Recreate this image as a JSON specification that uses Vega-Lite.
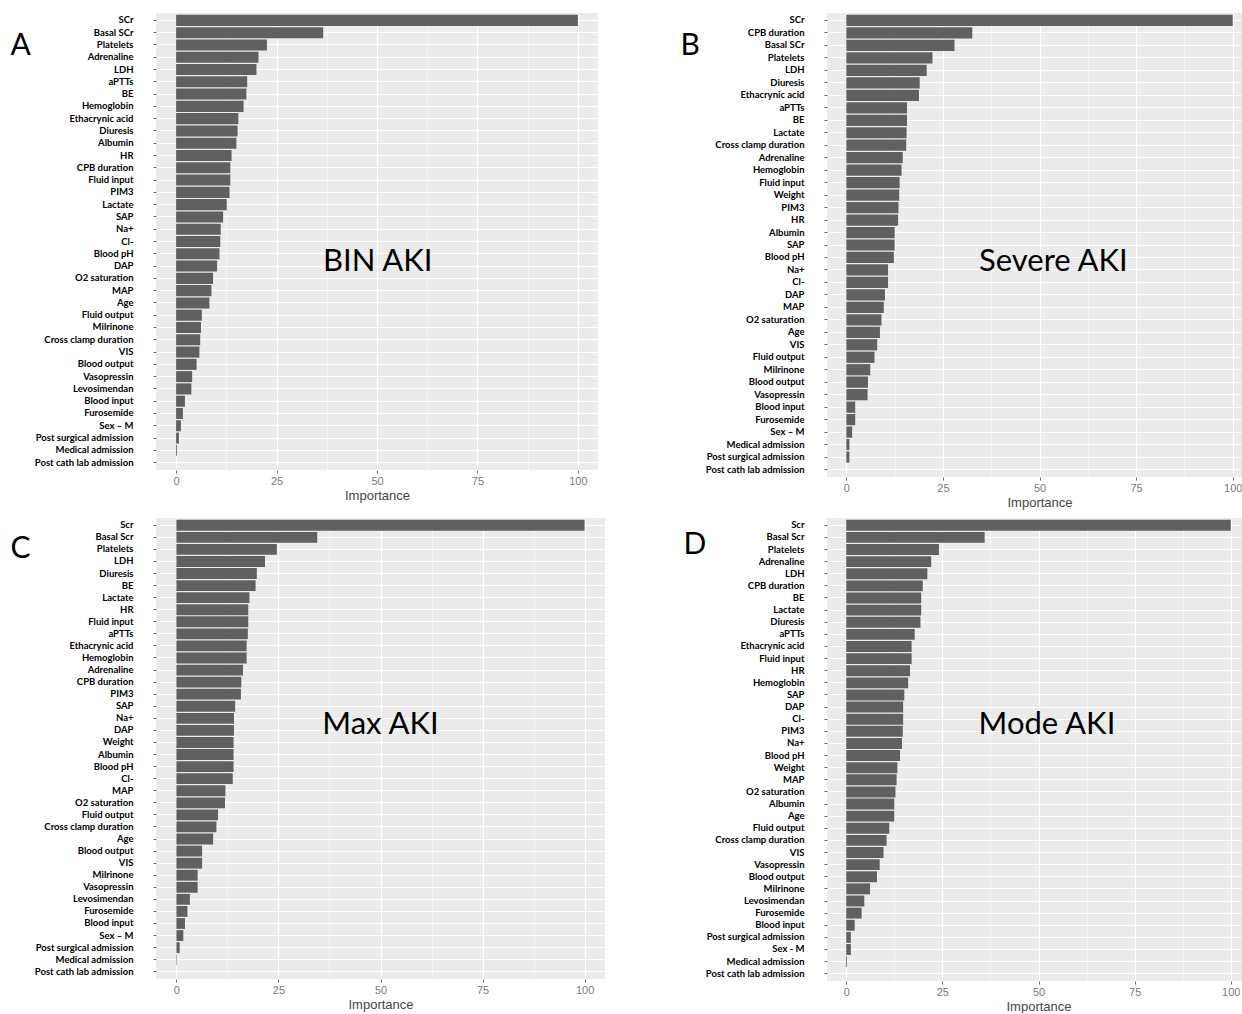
{
  "$schema": "https://vega.github.io/schema/vega-lite/v6.json",
  "padding": {"left": 10, "top": 13, "right": 0, "bottom": 0},
  "datasets": {
    "A": [
      {"variable": "SCr", "importance": 100},
      {"variable": "Basal SCr", "importance": 36.6},
      {"variable": "Platelets", "importance": 22.6},
      {"variable": "Adrenaline", "importance": 20.5},
      {"variable": "LDH", "importance": 20.0},
      {"variable": "aPTTs", "importance": 17.7},
      {"variable": "BE", "importance": 17.5},
      {"variable": "Hemoglobin", "importance": 16.8},
      {"variable": "Ethacrynic acid", "importance": 15.5},
      {"variable": "Diuresis", "importance": 15.3},
      {"variable": "Albumin", "importance": 15.0},
      {"variable": "HR", "importance": 13.8},
      {"variable": "CPB duration", "importance": 13.5},
      {"variable": "Fluid input", "importance": 13.5},
      {"variable": "PIM3", "importance": 13.3},
      {"variable": "Lactate", "importance": 12.6},
      {"variable": "SAP", "importance": 11.7},
      {"variable": "Na+", "importance": 11.1},
      {"variable": "Cl-", "importance": 11.0},
      {"variable": "Blood pH", "importance": 10.8},
      {"variable": "DAP", "importance": 10.2},
      {"variable": "O2 saturation", "importance": 9.2},
      {"variable": "MAP", "importance": 8.8},
      {"variable": "Age", "importance": 8.3},
      {"variable": "Fluid output", "importance": 6.4},
      {"variable": "Milrinone", "importance": 6.2},
      {"variable": "Cross clamp duration", "importance": 6.0},
      {"variable": "VIS", "importance": 5.8},
      {"variable": "Blood output", "importance": 5.1},
      {"variable": "Vasopressin", "importance": 4.0},
      {"variable": "Levosimendan", "importance": 3.8},
      {"variable": "Blood input", "importance": 2.2},
      {"variable": "Furosemide", "importance": 1.7},
      {"variable": "Sex – M", "importance": 1.2},
      {"variable": "Post surgical admission", "importance": 0.7},
      {"variable": "Medical admission", "importance": 0.2},
      {"variable": "Post cath lab admission", "importance": 0}
    ],
    "B": [
      {"variable": "SCr", "importance": 100},
      {"variable": "CPB duration", "importance": 32.6},
      {"variable": "Basal SCr", "importance": 28.0},
      {"variable": "Platelets", "importance": 22.3},
      {"variable": "LDH", "importance": 20.8},
      {"variable": "Diuresis", "importance": 19.0},
      {"variable": "Ethacrynic acid", "importance": 18.8},
      {"variable": "aPTTs", "importance": 15.7},
      {"variable": "BE", "importance": 15.7},
      {"variable": "Lactate", "importance": 15.6},
      {"variable": "Cross clamp duration", "importance": 15.5},
      {"variable": "Adrenaline", "importance": 14.6},
      {"variable": "Hemoglobin", "importance": 14.3},
      {"variable": "Fluid input", "importance": 13.8},
      {"variable": "Weight", "importance": 13.7},
      {"variable": "PIM3", "importance": 13.5},
      {"variable": "HR", "importance": 13.4},
      {"variable": "Albumin", "importance": 12.5},
      {"variable": "SAP", "importance": 12.5},
      {"variable": "Blood pH", "importance": 12.3},
      {"variable": "Na+", "importance": 10.8},
      {"variable": "Cl-", "importance": 10.8},
      {"variable": "DAP", "importance": 10.0},
      {"variable": "MAP", "importance": 9.7},
      {"variable": "O2 saturation", "importance": 9.1},
      {"variable": "Age", "importance": 8.7},
      {"variable": "VIS", "importance": 8.0},
      {"variable": "Fluid output", "importance": 7.3},
      {"variable": "Milrinone", "importance": 6.2},
      {"variable": "Blood output", "importance": 5.6},
      {"variable": "Vasopressin", "importance": 5.5},
      {"variable": "Blood input", "importance": 2.3},
      {"variable": "Furosemide", "importance": 2.3},
      {"variable": "Sex – M", "importance": 1.5},
      {"variable": "Medical admission", "importance": 0.8},
      {"variable": "Post surgical admission", "importance": 0.8},
      {"variable": "Post cath lab admission", "importance": 0}
    ],
    "C": [
      {"variable": "Scr", "importance": 100},
      {"variable": "Basal Scr", "importance": 34.5},
      {"variable": "Platelets", "importance": 24.6},
      {"variable": "LDH", "importance": 21.7},
      {"variable": "Diuresis", "importance": 19.7},
      {"variable": "BE", "importance": 19.4},
      {"variable": "Lactate", "importance": 17.9},
      {"variable": "HR", "importance": 17.6},
      {"variable": "Fluid input", "importance": 17.6},
      {"variable": "aPTTs", "importance": 17.5},
      {"variable": "Ethacrynic acid", "importance": 17.2},
      {"variable": "Hemoglobin", "importance": 17.2},
      {"variable": "Adrenaline", "importance": 16.3},
      {"variable": "CPB duration", "importance": 15.9},
      {"variable": "PIM3", "importance": 15.8},
      {"variable": "SAP", "importance": 14.4},
      {"variable": "Na+", "importance": 14.1},
      {"variable": "DAP", "importance": 14.1},
      {"variable": "Weight", "importance": 14.0},
      {"variable": "Albumin", "importance": 14.0},
      {"variable": "Blood pH", "importance": 14.0},
      {"variable": "Cl-", "importance": 13.8},
      {"variable": "MAP", "importance": 12.0},
      {"variable": "O2 saturation", "importance": 11.9},
      {"variable": "Fluid output", "importance": 10.2},
      {"variable": "Cross clamp duration", "importance": 9.8},
      {"variable": "Age", "importance": 9.0},
      {"variable": "Blood output", "importance": 6.3},
      {"variable": "VIS", "importance": 6.3},
      {"variable": "Milrinone", "importance": 5.2},
      {"variable": "Vasopressin", "importance": 5.2},
      {"variable": "Levosimendan", "importance": 3.3},
      {"variable": "Furosemide", "importance": 2.7},
      {"variable": "Blood input", "importance": 2.1},
      {"variable": "Sex – M", "importance": 1.7},
      {"variable": "Post surgical admission", "importance": 0.8},
      {"variable": "Medical admission", "importance": 0.1},
      {"variable": "Post cath lab admission", "importance": 0}
    ],
    "D": [
      {"variable": "Scr", "importance": 100},
      {"variable": "Basal Scr", "importance": 36.0},
      {"variable": "Platelets", "importance": 24.1},
      {"variable": "Adrenaline", "importance": 22.1},
      {"variable": "LDH", "importance": 21.1},
      {"variable": "CPB duration", "importance": 19.9},
      {"variable": "BE", "importance": 19.5},
      {"variable": "Lactate", "importance": 19.5},
      {"variable": "Diuresis", "importance": 19.3},
      {"variable": "aPTTs", "importance": 17.8},
      {"variable": "Ethacrynic acid", "importance": 17.0},
      {"variable": "Fluid input", "importance": 17.0},
      {"variable": "HR", "importance": 16.6},
      {"variable": "Hemoglobin", "importance": 16.1},
      {"variable": "SAP", "importance": 15.1},
      {"variable": "DAP", "importance": 14.8},
      {"variable": "Cl-", "importance": 14.8},
      {"variable": "PIM3", "importance": 14.7},
      {"variable": "Na+", "importance": 14.5},
      {"variable": "Blood pH", "importance": 14.0},
      {"variable": "Weight", "importance": 13.3},
      {"variable": "MAP", "importance": 13.1},
      {"variable": "O2 saturation", "importance": 12.8},
      {"variable": "Albumin", "importance": 12.5},
      {"variable": "Age", "importance": 12.5},
      {"variable": "Fluid output", "importance": 11.2},
      {"variable": "Cross clamp duration", "importance": 10.5},
      {"variable": "VIS", "importance": 9.7},
      {"variable": "Vasopressin", "importance": 8.7},
      {"variable": "Blood output", "importance": 8.0},
      {"variable": "Milrinone", "importance": 6.2},
      {"variable": "Levosimendan", "importance": 4.7},
      {"variable": "Furosemide", "importance": 4.0},
      {"variable": "Blood input", "importance": 2.2},
      {"variable": "Post surgical admission", "importance": 1.2},
      {"variable": "Sex - M", "importance": 1.2},
      {"variable": "Medical admission", "importance": 0.2},
      {"variable": "Post cath lab admission", "importance": 0}
    ]
  },
  "vconcat": [
    {
      "hconcat": [
        {
          "width": 442, "height": 457,
          "data": {"name": "A"},
          "resolve": {"axis": {"x": "independent"}},
          "layer": [
            {
              "mark": {"type": "bar", "color": "#606060"},
              "encoding": {
                "x": {"field": "importance", "type": "quantitative", "scale": {"domain": [-5, 105], "nice": false},
                      "axis": {"values": [0, 25, 50, 75, 100], "title": "Importance"}},
                "y": {"field": "variable", "type": "nominal", "sort": null, "scale": {"paddingInner": 0.1, "paddingOuter": 0.15},
                      "axis": {"title": "A", "titleX": -146, "titleY": 32}}
              }
            },
            {
              "data": {"values": [{}]},
              "mark": {"type": "text", "font": "Lato", "fontSize": 31, "color": "black", "dy": 8},
              "encoding": {
                "x": {"datum": 50.2, "type": "quantitative",
                      "axis": {"orient": "top", "values": [12.5, 37.5, 62.5, 87.5], "grid": true, "gridWidth": 0.5, "labels": false, "ticks": false, "domain": false, "title": null}},
                "y": {"datum": "Blood pH", "type": "nominal", "title": "A"},
                "text": {"value": "BIN AKI"}
              }
            }
          ]
        },
        {
          "width": 425, "height": 464,
          "data": {"name": "B"},
          "resolve": {"axis": {"x": "independent"}},
          "layer": [
            {
              "mark": {"type": "bar", "color": "#606060"},
              "encoding": {
                "x": {"field": "importance", "type": "quantitative", "scale": {"domain": [-5, 105], "nice": false},
                      "axis": {"values": [0, 25, 50, 75, 100], "title": "Importance"}},
                "y": {"field": "variable", "type": "nominal", "sort": null, "scale": {"paddingInner": 0.1, "paddingOuter": 0.15},
                      "axis": {"title": "B", "titleX": -147, "titleY": 32}}
              }
            },
            {
              "data": {"values": [{}]},
              "mark": {"type": "text", "font": "Lato", "fontSize": 31, "color": "black", "dy": 5},
              "encoding": {
                "x": {"datum": 53.6, "type": "quantitative",
                      "axis": {"orient": "top", "values": [12.5, 37.5, 62.5, 87.5], "grid": true, "gridWidth": 0.5, "labels": false, "ticks": false, "domain": false, "title": null}},
                "y": {"datum": "Blood pH", "type": "nominal", "title": "B"},
                "text": {"value": "Severe AKI"}
              }
            }
          ]
        }
      ],
      "spacing": 82,
      "align": "none"
    },
    {
      "hconcat": [
        {
          "width": 449, "height": 461,
          "data": {"name": "C"},
          "resolve": {"axis": {"x": "independent"}},
          "layer": [
            {
              "mark": {"type": "bar", "color": "#606060"},
              "encoding": {
                "x": {"field": "importance", "type": "quantitative", "scale": {"domain": [-5, 105], "nice": false},
                      "axis": {"values": [0, 25, 50, 75, 100], "title": "Importance"}},
                "y": {"field": "variable", "type": "nominal", "sort": null, "scale": {"paddingInner": 0.1, "paddingOuter": 0.15},
                      "axis": {"title": "C", "titleX": -146, "titleY": 30}}
              }
            },
            {
              "data": {"values": [{}]},
              "mark": {"type": "text", "font": "Lato", "fontSize": 31, "color": "black", "dy": 7},
              "encoding": {
                "x": {"datum": 50.0, "type": "quantitative",
                      "axis": {"orient": "top", "values": [12.5, 37.5, 62.5, 87.5], "grid": true, "gridWidth": 0.5, "labels": false, "ticks": false, "domain": false, "title": null}},
                "y": {"datum": "Na+", "type": "nominal", "title": "C"},
                "text": {"value": "Max AKI"}
              }
            }
          ]
        },
        {
          "width": 423, "height": 463,
          "data": {"name": "D"},
          "resolve": {"axis": {"x": "independent"}},
          "layer": [
            {
              "mark": {"type": "bar", "color": "#606060"},
              "encoding": {
                "x": {"field": "importance", "type": "quantitative", "scale": {"domain": [-5, 105], "nice": false},
                      "axis": {"values": [0, 25, 50, 75, 100], "title": "Importance"}},
                "y": {"field": "variable", "type": "nominal", "sort": null, "scale": {"paddingInner": 0.1, "paddingOuter": 0.15},
                      "axis": {"title": "D", "titleX": -144, "titleY": 26}}
              }
            },
            {
              "data": {"values": [{}]},
              "mark": {"type": "text", "font": "Lato", "fontSize": 31, "color": "black", "dy": 6},
              "encoding": {
                "x": {"datum": 52.2, "type": "quantitative",
                      "axis": {"orient": "top", "values": [12.5, 37.5, 62.5, 87.5], "grid": true, "gridWidth": 0.5, "labels": false, "ticks": false, "domain": false, "title": null}},
                "y": {"datum": "Cl-", "type": "nominal", "title": "D"},
                "text": {"value": "Mode AKI"}
              }
            }
          ]
        }
      ],
      "spacing": 78,
      "align": "none"
    }
  ],
  "spacing": 9,
  "config": {
    "view": {"fill": "#ebebeb", "stroke": null},
    "axis": {
      "domain": false, "gridColor": "white", "tickColor": "#6b6b6b", "tickSize": 3,
      "labelColor": "#7a7a7a", "labelFont": "Liberation Sans", "labelFontSize": 11,
      "titleFont": "Liberation Sans", "titleFontWeight": "normal", "titleFontSize": 13, "titleColor": "#444444"
    },
    "axisX": {"grid": true, "gridWidth": 1.1, "labelPadding": 2, "titlePadding": 3},
    "axisY": {
      "grid": true, "gridWidth": 1, "bandPosition": 0.5,
      "labelFont": "Lato", "labelFontWeight": "bold", "labelFontSize": 9.5, "labelColor": "black",
      "labelPadding": 20, "labelLimit": 300,
      "titleAngle": 0, "titleFont": "Lato", "titleFontSize": 30, "titleFontWeight": "normal",
      "titleColor": "black", "titleAlign": "left", "titleBaseline": "middle"
    }
  }
}
